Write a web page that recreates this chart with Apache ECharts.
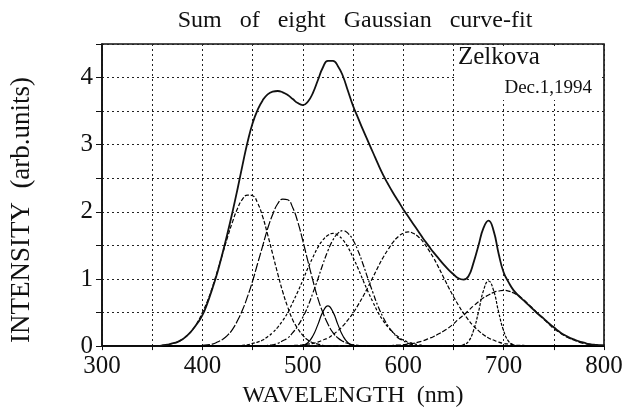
<!DOCTYPE html>
<html>
<head>
<meta charset="utf-8">
<script src="https://cdn.jsdelivr.net/npm/echarts@6/dist/echarts.min.js"></script>
<style>
  html, body { margin: 0; padding: 0; background: #fff; }
  #chart { width: 626px; height: 413px; }
</style>
</head>
<body>
<div id="chart"></div>
<script>
// wavelength grid (nm), 5 nm steps
const wavelength = [
  300, 305, 310, 315, 320, 325, 330, 335, 340, 345,
  350, 355, 360, 365, 370, 375, 380, 385, 390, 395,
  400, 405, 410, 415, 420, 425, 430, 435, 440, 445,
  450, 455, 460, 465, 470, 475, 480, 485, 490, 495,
  500, 505, 510, 515, 520, 525, 530, 535, 540, 545,
  550, 555, 560, 565, 570, 575, 580, 585, 590, 595,
  600, 605, 610, 615, 620, 625, 630, 635, 640, 645,
  650, 655, 660, 665, 670, 675, 680, 685, 690, 695,
  700, 705, 710, 715, 720, 725, 730, 735, 740, 745,
  750, 755, 760, 765, 770, 775, 780, 785, 790, 795,
  800
];

// measured spectrum / sum (solid)
const total = [
  0, 0, 0, 0, 0, 0, 0, 0, 0, 0,
  0, 0, 0.01, 0.02, 0.04, 0.06, 0.1, 0.16, 0.24, 0.34,
  0.46, 0.64, 0.86, 1.1, 1.38, 1.68, 2.0, 2.34, 2.7, 3.04,
  3.32, 3.52, 3.66, 3.75, 3.79, 3.8, 3.78, 3.74, 3.68, 3.62,
  3.59, 3.64, 3.77, 3.96, 4.15, 4.25, 4.25, 4.17, 4.02, 3.8,
  3.58, 3.4, 3.22, 3.05, 2.88, 2.71, 2.55, 2.41, 2.28, 2.16,
  2.04, 1.93, 1.82, 1.71, 1.6, 1.5, 1.4, 1.31, 1.22, 1.14,
  1.07, 1.01, 0.99, 1.04, 1.24, 1.5, 1.76, 1.87, 1.72, 1.38,
  1.1, 0.95, 0.83, 0.75, 0.68, 0.61, 0.54, 0.47, 0.41, 0.34,
  0.28, 0.22, 0.17, 0.13, 0.1, 0.07, 0.05, 0.03, 0.02, 0.015,
  0.01
];

// eight gaussian components
const band447 = [
  0, 0, 0, 0, 0, 0, 0, 0, 0, 0,
  0, 0, 0.01, 0.02, 0.04, 0.06, 0.1, 0.16, 0.24, 0.35,
  0.5, 0.67, 0.88, 1.12, 1.37, 1.62, 1.85, 2.05, 2.19, 2.25,
  2.24, 2.13, 1.93, 1.66, 1.37, 1.08, 0.81, 0.58, 0.39, 0.26,
  0.16, 0.09, 0.05, 0.03, 0.01, 0, 0, 0, 0, 0,
  0, 0, 0, 0, 0, 0, 0, 0, 0, 0,
  0, 0, 0, 0, 0, 0, 0, 0, 0, 0,
  0, 0, 0, 0, 0, 0, 0, 0, 0, 0,
  0, 0, 0, 0, 0, 0, 0, 0, 0, 0,
  0, 0, 0, 0, 0, 0, 0, 0, 0, 0,
  0
];
const band482 = [
  0, 0, 0, 0, 0, 0, 0, 0, 0, 0,
  0, 0, 0, 0, 0, 0, 0, 0, 0, 0,
  0.01, 0.02, 0.03, 0.06, 0.1, 0.16, 0.25, 0.38, 0.54, 0.74,
  0.97, 1.23, 1.49, 1.75, 1.96, 2.12, 2.19, 2.18, 2.06, 1.85,
  1.57, 1.27, 0.98, 0.71, 0.5, 0.33, 0.2, 0.12, 0.07, 0.04,
  0.02, 0.01, 0, 0, 0, 0, 0, 0, 0, 0,
  0, 0, 0, 0, 0, 0, 0, 0, 0, 0,
  0, 0, 0, 0, 0, 0, 0, 0, 0, 0,
  0, 0, 0, 0, 0, 0, 0, 0, 0, 0,
  0, 0, 0, 0, 0, 0, 0, 0, 0, 0,
  0
];
const band525 = [
  0, 0, 0, 0, 0, 0, 0, 0, 0, 0,
  0, 0, 0, 0, 0, 0, 0, 0, 0, 0,
  0, 0, 0, 0, 0, 0, 0, 0, 0, 0,
  0, 0, 0, 0, 0, 0, 0, 0, 0, 0,
  0.01, 0.05, 0.15, 0.32, 0.51, 0.6, 0.51, 0.32, 0.15, 0.05,
  0.01, 0, 0, 0, 0, 0, 0, 0, 0, 0,
  0, 0, 0, 0, 0, 0, 0, 0, 0, 0,
  0, 0, 0, 0, 0, 0, 0, 0, 0, 0,
  0, 0, 0, 0, 0, 0, 0, 0, 0, 0,
  0, 0, 0, 0, 0, 0, 0, 0, 0, 0,
  0
];
const band530 = [
  0, 0, 0, 0, 0, 0, 0, 0, 0, 0,
  0, 0, 0, 0, 0, 0, 0, 0, 0, 0,
  0, 0, 0, 0, 0, 0, 0, 0, 0.01, 0.02,
  0.04, 0.06, 0.09, 0.14, 0.2, 0.28, 0.38, 0.5, 0.65, 0.81,
  0.98, 1.16, 1.32, 1.47, 1.58, 1.65, 1.68, 1.65, 1.58, 1.47,
  1.32, 1.16, 0.98, 0.81, 0.65, 0.5, 0.38, 0.28, 0.2, 0.14,
  0.09, 0.06, 0.04, 0.02, 0.01, 0, 0, 0, 0, 0,
  0, 0, 0, 0, 0, 0, 0, 0, 0, 0,
  0, 0, 0, 0, 0, 0, 0, 0, 0, 0,
  0, 0, 0, 0, 0, 0, 0, 0, 0, 0,
  0
];
const band540 = [
  0, 0, 0, 0, 0, 0, 0, 0, 0, 0,
  0, 0, 0, 0, 0, 0, 0, 0, 0, 0,
  0, 0, 0, 0, 0, 0, 0, 0, 0, 0,
  0, 0, 0, 0.01, 0.02, 0.04, 0.08, 0.12, 0.2, 0.3,
  0.43, 0.59, 0.79, 1.0, 1.22, 1.42, 1.58, 1.68, 1.72, 1.68,
  1.58, 1.42, 1.22, 1.0, 0.79, 0.59, 0.43, 0.3, 0.2, 0.12,
  0.08, 0.04, 0.02, 0.01, 0, 0, 0, 0, 0, 0,
  0, 0, 0, 0, 0, 0, 0, 0, 0, 0,
  0, 0, 0, 0, 0, 0, 0, 0, 0, 0,
  0, 0, 0, 0, 0, 0, 0, 0, 0, 0,
  0
];
const band605 = [
  0, 0, 0, 0, 0, 0, 0, 0, 0, 0,
  0, 0, 0, 0, 0, 0, 0, 0, 0, 0,
  0, 0, 0, 0, 0, 0, 0, 0, 0, 0,
  0, 0, 0, 0, 0, 0, 0, 0, 0.01, 0.01,
  0.02, 0.03, 0.04, 0.06, 0.09, 0.12, 0.17, 0.23, 0.3, 0.39,
  0.49, 0.61, 0.74, 0.88, 1.03, 1.18, 1.32, 1.44, 1.55, 1.63,
  1.68, 1.7, 1.68, 1.63, 1.55, 1.44, 1.32, 1.18, 1.03, 0.88,
  0.74, 0.61, 0.49, 0.39, 0.3, 0.23, 0.17, 0.12, 0.09, 0.06,
  0.04, 0.03, 0.02, 0.01, 0.01, 0, 0, 0, 0, 0,
  0, 0, 0, 0, 0, 0, 0, 0, 0, 0,
  0
];
const band685 = [
  0, 0, 0, 0, 0, 0, 0, 0, 0, 0,
  0, 0, 0, 0, 0, 0, 0, 0, 0, 0,
  0, 0, 0, 0, 0, 0, 0, 0, 0, 0,
  0, 0, 0, 0, 0, 0, 0, 0, 0, 0,
  0, 0, 0, 0, 0, 0, 0, 0, 0, 0,
  0, 0, 0, 0, 0, 0, 0, 0, 0, 0,
  0, 0, 0, 0, 0, 0, 0, 0, 0, 0,
  0, 0, 0.02, 0.07, 0.23, 0.51, 0.83, 0.97, 0.83, 0.51,
  0.23, 0.07, 0.02, 0, 0, 0, 0, 0, 0, 0,
  0, 0, 0, 0, 0, 0, 0, 0, 0, 0,
  0
];
const band700 = [
  0, 0, 0, 0, 0, 0, 0, 0, 0, 0,
  0, 0, 0, 0, 0, 0, 0, 0, 0, 0,
  0, 0, 0, 0, 0, 0, 0, 0, 0, 0,
  0, 0, 0, 0, 0, 0, 0, 0, 0, 0,
  0, 0, 0, 0, 0, 0, 0, 0, 0, 0,
  0, 0, 0, 0, 0, 0, 0, 0, 0.01, 0.015,
  0.02, 0.03, 0.04, 0.06, 0.08, 0.11, 0.14, 0.18, 0.22, 0.27,
  0.33, 0.4, 0.46, 0.53, 0.6, 0.66, 0.72, 0.76, 0.8, 0.82,
  0.83, 0.82, 0.79, 0.75, 0.69, 0.62, 0.55, 0.47, 0.4, 0.33,
  0.26, 0.21, 0.16, 0.12, 0.09, 0.06, 0.04, 0.03, 0.02, 0.013,
  0.01
];

const serif = 'Liberation Serif';
const ink = '#111';

function pairs(vals) {
  return wavelength.map((w, i) => [w, vals[i]]);
}

function band(vals, dash) {
  return {
    type: 'line',
    data: pairs(vals),
    smooth: true,
    symbol: 'none',
    silent: true,
    lineStyle: { color: '#000', width: 1.2, type: dash }
  };
}

const chart = echarts.init(document.getElementById('chart'), null, { renderer: 'canvas' });

const gridLine = { show: true, lineStyle: { color: '#222', width: 1, type: [2, 3] } };

chart.setOption({
  animation: false,
  backgroundColor: '#fff',
  title: {
    text: 'Sum   of   eight   Gaussian   curve-fit',
    left: 350,
    top: 4,
    textAlign: 'center',
    textStyle: { fontFamily: serif, fontSize: 24, fontWeight: 'normal', color: ink }
  },
  grid: {
    left: 102, right: 22, top: 44, bottom: 61,
    show: true, borderColor: ink, borderWidth: 1.6, backgroundColor: 'transparent'
  },
  xAxis: {
    type: 'value',
    min: 300, max: 800, interval: 50,
    name: 'WAVELENGTH  (nm)',
    nameLocation: 'middle',
    nameGap: 34,
    nameTextStyle: { fontFamily: serif, fontSize: 24, color: ink },
    axisLine: { lineStyle: { color: ink, width: 1.6 } },
    axisTick: { length: 4, lineStyle: { color: ink } },
    axisLabel: {
      fontFamily: serif, fontSize: 25, color: ink, margin: 8,
      formatter: v => (v % 100 === 0 ? String(v) : '')
    },
    splitLine: gridLine
  },
  yAxis: {
    type: 'value',
    min: 0, max: 4.5, interval: 0.5,
    axisLine: { show: true, lineStyle: { color: ink, width: 1.6 } },
    axisTick: { show: true, length: 6, lineStyle: { color: ink } },
    axisLabel: {
      fontFamily: serif, fontSize: 25, color: ink, margin: 9,
      formatter: v => (Number.isInteger(v) ? String(v) : '')
    },
    splitLine: gridLine
  },
  graphic: [
    {
      type: 'text', x: 22, y: 210, rotation: Math.PI / 2,
      style: {
        text: 'INTENSITY  (arb.units)', fontFamily: serif, fontSize: 27, fill: ink,
        textAlign: 'center', textVerticalAlign: 'middle'
      }
    },
    {
      type: 'rect', z: 1,
      shape: { x: 456, y: 46, width: 146, height: 54 },
      style: { fill: '#fff' }
    },
    {
      type: 'text', left: 458, top: 45, z: 2,
      style: { text: 'Zelkova', fontFamily: serif, fontSize: 25, fill: ink }
    },
    {
      type: 'text', right: 34, top: 79, z: 2,
      style: { text: 'Dec.1,1994', fontFamily: serif, fontSize: 19, fill: ink }
    }
  ],
  series: [
    band(band447, [4, 2]),
    band(band482, [9, 2]),
    band(band525, 'solid'),
    band(band530, [3, 2]),
    band(band540, [6, 2, 2, 2]),
    band(band605, [4, 2]),
    band(band685, [3, 1.5]),
    band(band700, [5, 2]),
    {
      type: 'line',
      data: pairs(total),
      smooth: true,
      symbol: 'none',
      silent: true,
      z: 5,
      lineStyle: { color: ink, width: 1.8 }
    }
  ]
});
</script>
</body>
</html>
